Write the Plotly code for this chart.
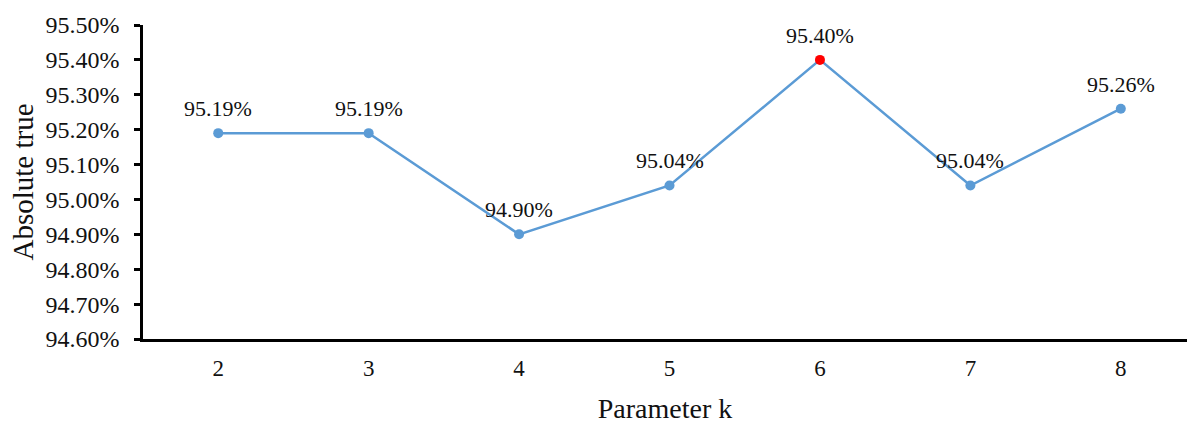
import plotly.graph_objects as go

# Accuracy for each value of the parameter k
k_values = [2, 3, 4, 5, 6, 7, 8]
accuracy = [95.19, 95.19, 94.90, 95.04, 95.40, 95.04, 95.26]
point_labels = ["95.19%", "95.19%", "94.90%", "95.04%", "95.40%", "95.04%", "95.26%"]

best = accuracy.index(max(accuracy))
marker_colors = ["#FF0000" if i == best else "#5B9BD5" for i in range(len(accuracy))]

FONT = "Liberation Serif"

fig = go.Figure(
    go.Scatter(
        x=k_values,
        y=accuracy,
        mode="lines+markers",
        line=dict(color="#5B9BD5", width=2.5),
        marker=dict(color=marker_colors, size=10),
        showlegend=False,
    )
)

# Value labels above each point
for k, acc, label in zip(k_values, accuracy, point_labels):
    fig.add_annotation(
        x=k, y=acc, text=label, showarrow=False,
        yanchor="bottom", yshift=10,
        font=dict(family=FONT, size=22, color="#111111"),
    )

fig.update_layout(
    width=1187,
    height=426,
    margin=dict(l=143, r=0, t=25, b=87),
    paper_bgcolor="white",
    plot_bgcolor="white",
    font=dict(family=FONT, color="#111111"),
)

fig.update_xaxes(
    range=[1.5, 8.44],
    tickvals=k_values,
    ticktext=[str(k) for k in k_values],
    ticks="",
    showgrid=False,
    zeroline=False,
    showline=True,
    linecolor="black",
    linewidth=3,
    tickfont=dict(family=FONT, size=23),
    ticklabelstandoff=6,
    title=dict(text="Parameter k", font=dict(family=FONT, size=28), standoff=19),
)

fig.update_yaxes(
    range=[94.60, 95.50],
    dtick=0.1,
    tick0=94.60,
    tickformat=".2f",
    ticksuffix="%",
    ticks="outside",
    ticklen=6,
    tickwidth=2.5,
    tickcolor="black",
    showgrid=False,
    zeroline=False,
    showline=True,
    linecolor="black",
    linewidth=2.5,
    tickfont=dict(family=FONT, size=24),
    ticklabelstandoff=10,
    title=dict(text="Absolute true", font=dict(family=FONT, size=29), standoff=4),
)

fig.write_html("out.html")
